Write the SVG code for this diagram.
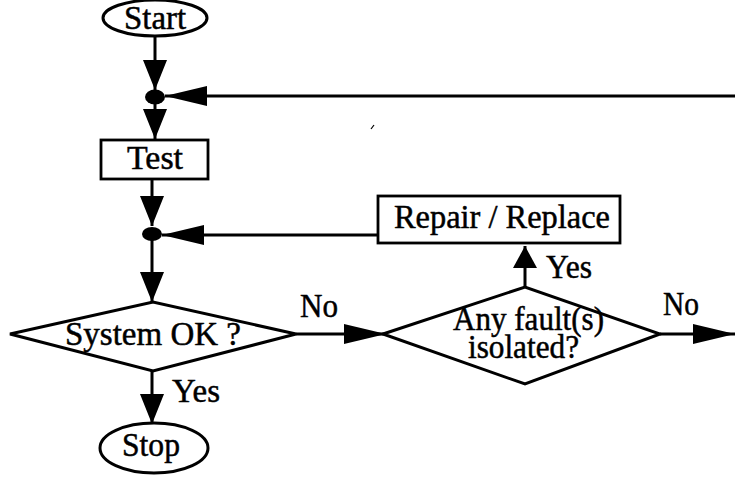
<svg xmlns="http://www.w3.org/2000/svg" width="735" height="479" viewBox="0 0 735 479">
  <style>
    .shape { fill: #ffffff; stroke: #000000; stroke-width: 3; }
    .box { fill: #ffffff; stroke: #000000; stroke-width: 2.8; }
    .dot { fill: #000000; }
    .label { font-family: "Liberation Serif", "Times New Roman", serif; font-size: 34px; fill: #000000; stroke: #000000; stroke-width: 0.5; }
    .edge { fill: none; stroke: #000000; stroke-width: 3; }
  </style>
  <defs>
    <marker id="arrowV" markerUnits="userSpaceOnUse" markerWidth="30" markerHeight="24" refX="30" refY="12" orient="auto">
      <path d="M0,0 L30,12 L0,24 z" fill="#000000"/>
    </marker>
    <marker id="arrowS" markerUnits="userSpaceOnUse" markerWidth="22" markerHeight="24" refX="22" refY="12" orient="auto">
      <path d="M0,0 L22,12 L0,24 z" fill="#000000"/>
    </marker>
    <marker id="arrowH" markerUnits="userSpaceOnUse" markerWidth="42" markerHeight="20" refX="42" refY="10" orient="auto">
      <path d="M0,0 L42,10 L0,20 z" fill="#000000"/>
    </marker>
  </defs>

  <rect width="735" height="479" fill="#ffffff"/>

  <!-- connectors -->
  <g id="connectors">
    <path class="edge" d="M155,36 V90" marker-end="url(#arrowV)"/>
    <path class="edge" d="M155,104 V139" marker-end="url(#arrowV)"/>
    <path class="edge" d="M735,96 H165" marker-end="url(#arrowH)"/>
    <path class="edge" d="M152,179 V226" marker-end="url(#arrowV)"/>
    <path class="edge" d="M378,235 H162" marker-end="url(#arrowH)"/>
    <path class="edge" d="M152,240 V302" marker-end="url(#arrowV)"/>
    <path class="edge" d="M152,371 V424" marker-end="url(#arrowV)"/>
    <path class="edge" d="M296,334 H386" marker-end="url(#arrowH)"/>
    <path class="edge" d="M525,287 V246" marker-end="url(#arrowS)"/>
    <path class="edge" d="M660,334 H735" marker-end="url(#arrowH)"/>
    <text class="label" x="300" y="317" textLength="38" lengthAdjust="spacingAndGlyphs">No</text>
    <text class="label" x="172" y="402" textLength="48" lengthAdjust="spacingAndGlyphs">Yes</text>
    <text class="label" x="546" y="278" textLength="46" lengthAdjust="spacingAndGlyphs">Yes</text>
    <text class="label" x="663" y="315" textLength="36" lengthAdjust="spacingAndGlyphs">No</text>
  </g>

  <!-- stray pen mark -->
  <path d="M371,129 L374,125" stroke="#000000" stroke-width="1.2"/>

  <g id="start">
    <ellipse class="shape" cx="155" cy="18" rx="52" ry="18"/>
    <text class="label" x="124" y="29" textLength="62" lengthAdjust="spacingAndGlyphs">Start</text>
  </g>

  <g id="join1">
    <ellipse class="dot" cx="155" cy="97" rx="10" ry="7.5"/>
  </g>

  <g id="test">
    <rect class="box" x="101" y="140" width="107" height="39"/>
    <text class="label" x="127" y="169" textLength="56" lengthAdjust="spacingAndGlyphs">Test</text>
  </g>

  <g id="join2">
    <ellipse class="dot" cx="152" cy="234" rx="10" ry="7"/>
  </g>

  <g id="repair">
    <rect class="box" x="378" y="196" width="242" height="47"/>
    <text class="label" x="394" y="228" textLength="216" lengthAdjust="spacingAndGlyphs">Repair / Replace</text>
  </g>

  <g id="system-ok">
    <polygon class="shape" points="10,334 153,302 296,334 153,371" stroke-width="3.5"/>
    <text class="label" x="65" y="345" textLength="176" lengthAdjust="spacingAndGlyphs">System OK ?</text>
  </g>

  <g id="fault-isolated">
    <polygon class="shape" points="383,334 525,287 660,334 525,384" stroke-width="3.5"/>
    <text class="label" x="453" y="330" textLength="151" lengthAdjust="spacingAndGlyphs">Any fault(s)</text>
    <text class="label" x="468" y="358" textLength="111" lengthAdjust="spacingAndGlyphs">isolated?</text>
  </g>

  <g id="stop">
    <ellipse class="shape" cx="154" cy="448" rx="54" ry="25"/>
    <text class="label" x="122" y="456" textLength="58" lengthAdjust="spacingAndGlyphs">Stop</text>
  </g>
</svg>
